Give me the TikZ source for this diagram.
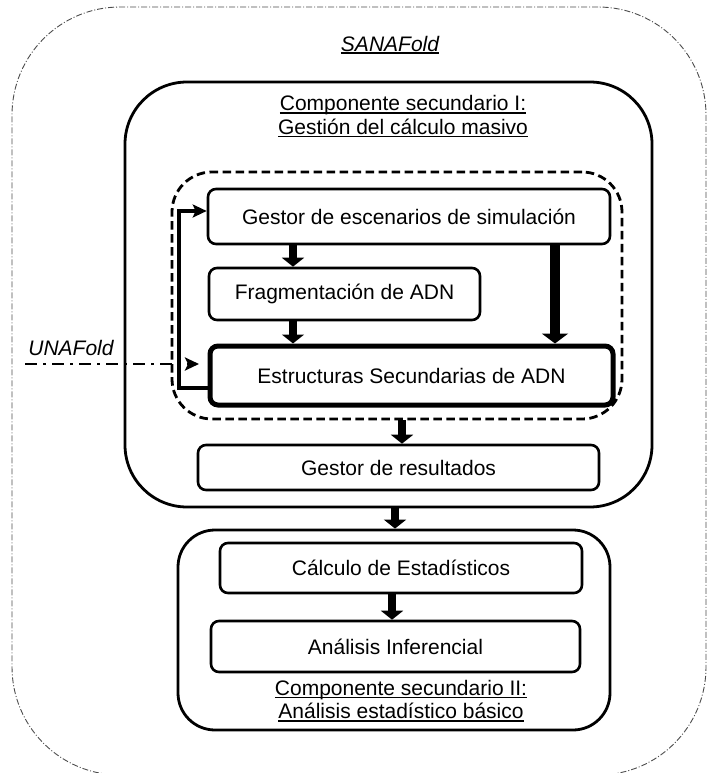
\documentclass[tikz,border=0pt]{standalone}
\usepackage{fontspec}
\setmainfont{Liberation Sans}
\usetikzlibrary{arrows.meta}
\newcommand{\uln}[1]{{\setbox0=\hbox{#1}\rlap{\rule[-3pt]{\wd0}{1.7pt}}\box0}}
\begin{document}
\begin{tikzpicture}[x=1pt,y=-1pt,
  every node/.style={font=\fontsize{21}{23.5}\selectfont, inner sep=0pt},
  box/.style={draw, line width=2.6pt, rounded corners=8pt, fill=white},
  thickbox/.style={box, line width=5pt},
  cont/.style={draw, line width=2.8pt},
  blk/.style={line width=7.5pt, -{Triangle[width=22pt,length=9pt]}},
  bigblk/.style={line width=10pt, -{Triangle[width=26pt,length=10pt]}},
  flow/.style={line width=3.4pt, -{Stealth[length=14pt,width=13pt,inset=3pt]}},
  ddflow/.style={line width=2.8pt, dash pattern=on 12pt off 6pt on 3pt off 6pt, -{Stealth[length=14pt,width=13pt,inset=3pt]}},
  ttl/.style={align=center}
]
\useasboundingbox (0,0) rectangle (707,773);
% outer SANAFold container
\node[draw=black!70, line width=0.9pt, dash pattern=on 6pt off 2pt on 1pt off 2pt,
      rounded corners=108pt, minimum width=694pt, minimum height=768pt] (outer) at (359,391) {};
% component I
\node[cont, rounded corners=62pt, minimum width=527pt, minimum height=425pt] (comp1) at (388.5,294.5) {};
% dashed group
\node[draw, line width=2.8pt, dash pattern=on 8.5pt off 4.5pt, rounded corners=40pt,
      minimum width=450pt, minimum height=247pt] (grp) at (397,295.5) {};
% component II
\node[cont, rounded corners=37pt, minimum width=432pt, minimum height=200pt] (comp2) at (394,630) {};

% titles
\node[ttl] (t0) at (390,45) {\uln{\itshape SANAFold}};
\node[ttl] (t1) at (403,116.5) {\uln{Componente secundario I:}\\\uln{Gestión del cálculo masivo}};
\node[ttl] (t2) at (401,701) {\uln{Componente secundario II:}\\\uln{Análisis estadístico básico}};
\node (una) at (71,348) {\itshape UNAFold};

% boxes
\node[box, minimum width=402pt, minimum height=55pt] (gesc) at (409,216.5) {Gestor de escenarios de simulación};
\node[box, minimum width=271pt, minimum height=52pt] (frag) at (344.5,294) {Fragmentación de ADN};
\node[thickbox, minimum width=403pt, minimum height=59pt] (estr) at (411.5,375.5) {Estructuras Secundarias de ADN};
\node[box, minimum width=401pt, minimum height=45pt] (gres) at (398.5,467.5) {Gestor de resultados};
\node[box, minimum width=362pt, minimum height=50pt] (calc) at (401,568) {Cálculo de Estadísticos};
\node[box, minimum width=369pt, minimum height=51pt] (anal) at (395.5,646.5) {Análisis Inferencial};

% coordinates for arrows
\coordinate (a1) at (293,0);
\coordinate (a2) at (555,0);
\coordinate (a3) at (402,0);
\coordinate (a4) at (395,0);
\coordinate (a5) at (392,0);
\coordinate (lb) at (179,388);
\coordinate (lt) at (179,211);
\coordinate (us) at (25,364);
\coordinate (ue) at (199,364);

% block arrows
\draw[blk] (gesc.south -| a1) -- (frag.north -| a1);
\draw[blk] (frag.south -| a1) -- (estr.north -| a1);
\draw[bigblk] (gesc.south -| a2) -- (estr.north -| a2);
\draw[blk] (grp.south -| a3) -- (gres.north -| a3);
\draw[blk] (comp1.south -| a4) -- (comp2.north -| a4);
\draw[blk] (calc.south -| a5) -- (anal.north -| a5);

% feedback loop
\draw[flow] (estr.west |- lb) -- (lb) -- (lt) -- (gesc.west |- lt);
% UNAFold input
\draw[ddflow] (us) -- (ue);
\end{tikzpicture}
\end{document}
